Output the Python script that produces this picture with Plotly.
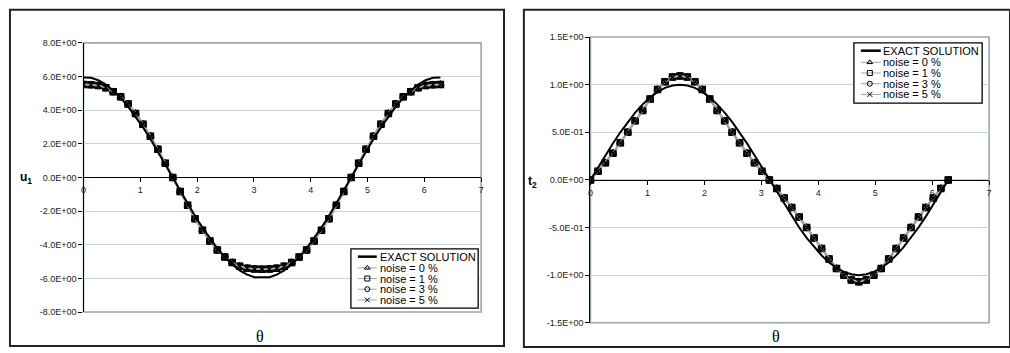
import plotly.graph_objects as go

W, H = 1010, 353

# ---------------- data ----------------
theta = [0.000, 0.131, 0.262, 0.393, 0.524, 0.654, 0.785, 0.916, 1.047, 1.178,
         1.309, 1.440, 1.571, 1.702, 1.833, 1.963, 2.094, 2.225, 2.356, 2.487,
         2.618, 2.749, 2.880, 3.011, 3.142, 3.272, 3.403, 3.534, 3.665, 3.796,
         3.927, 4.058, 4.189, 4.320, 4.451, 4.581, 4.712, 4.843, 4.974, 5.105,
         5.236, 5.367, 5.498, 5.629, 5.760, 5.890, 6.021, 6.152, 6.283]

u1_exact = [5.95, 5.93, 5.78, 5.52, 5.17, 4.73, 4.21, 3.63, 2.98, 2.29,
            1.55, 0.78, 0.00, -0.78, -1.55, -2.29, -2.98, -3.63, -4.21, -4.73,
            -5.17, -5.52, -5.78, -5.93, -5.95, -5.93, -5.78, -5.52, -5.17, -4.73,
            -4.21, -3.63, -2.98, -2.29, -1.55, -0.78, 0.00, 0.78, 1.55, 2.29,
            2.98, 3.63, 4.21, 4.73, 5.17, 5.52, 5.78, 5.93, 5.95]

u1_noise = [5.53, 5.51, 5.47, 5.34, 5.10, 4.80, 4.37, 3.81, 3.17, 2.45,
            1.68, 0.85, 0.00, -0.84, -1.65, -2.45, -3.14, -3.77, -4.31, -4.73,
            -5.06, -5.28, -5.40, -5.44, -5.45, -5.44, -5.40, -5.28, -5.06, -4.73,
            -4.31, -3.77, -3.14, -2.45, -1.65, -0.84, 0.00, 0.85, 1.68, 2.45,
            3.17, 3.81, 4.37, 4.80, 5.10, 5.34, 5.47, 5.51, 5.53]

t2_exact = [0.000, 0.131, 0.259, 0.383, 0.500, 0.609, 0.707, 0.793, 0.866, 0.924,
            0.966, 0.991, 1.000, 0.991, 0.966, 0.924, 0.866, 0.793, 0.707, 0.609,
            0.500, 0.383, 0.259, 0.131, 0.000, -0.131, -0.259, -0.383, -0.500, -0.609,
            -0.707, -0.793, -0.866, -0.924, -0.966, -0.991, -1.000, -0.991, -0.966, -0.924,
            -0.866, -0.793, -0.707, -0.609, -0.500, -0.383, -0.259, -0.131, 0.000]

t2_noise = [0.00, 0.09, 0.18, 0.28, 0.39, 0.50, 0.62, 0.73, 0.85, 0.95,
            1.03, 1.08, 1.09, 1.08, 1.03, 0.95, 0.85, 0.73, 0.62, 0.50,
            0.39, 0.28, 0.18, 0.09, 0.00, -0.09, -0.19, -0.29, -0.39, -0.50,
            -0.61, -0.72, -0.83, -0.93, -1.00, -1.05, -1.07, -1.05, -1.00, -0.93,
            -0.83, -0.72, -0.61, -0.50, -0.39, -0.29, -0.19, -0.09, 0.00]

noise_levels = ["0", "1", "3", "5"]
noise_symbols = ["triangle-up-open", "square-open", "circle-open", "x-thin-open"]

x_ticks = [0, 1, 2, 3, 4, 5, 6, 7]
u1_tickvals = [-8, -6, -4, -2, 0, 2, 4, 6, 8]
u1_ticktext = ["-8.0E+00", "-6.0E+00", "-4.0E+00", "-2.0E+00", "0.0E+00",
               "2.0E+00", "4.0E+00", "6.0E+00", "8.0E+00"]
t2_tickvals = [-1.5, -1.0, -0.5, 0.0, 0.5, 1.0, 1.5]
t2_ticktext = ["-1.5E+00", "-1.0E+00", "-5.0E-01", "0.0E+00",
               "5.0E-01", "1.0E+00", "1.5E+00"]

# ---------------- styling ----------------
GRID = "#C9D6D6"
FRAME = "#98AAAA"
NOISE_LINE = "#9AA9A9"
TICKFONT = dict(family="Liberation Sans, Arial", size=9, color="#222222")


def px(x):
    return x / W


def py(y):
    return 1 - y / H


fig = go.Figure()

panels = [
    dict(xa="x", ya="y", exact=u1_exact, noise=u1_noise),
    dict(xa="x2", ya="y2", exact=t2_exact, noise=t2_noise),
]
for p in panels:
    for lvl, sym in zip(noise_levels, noise_symbols):
        fig.add_trace(go.Scatter(
            x=theta, y=p["noise"], xaxis=p["xa"], yaxis=p["ya"],
            mode="lines+markers", showlegend=False,
            line=dict(color=NOISE_LINE, width=2),
            marker=dict(symbol=sym, size=6, color="black",
                        line=dict(color="black", width=1.5)),
            name=f"noise = {lvl} %"))
    fig.add_trace(go.Scatter(
        x=theta, y=p["exact"], xaxis=p["xa"], yaxis=p["ya"],
        mode="lines", showlegend=False, line=dict(color="black", width=2),
        name="EXACT SOLUTION"))

# plot-area geometry (pixels)
L = dict(x0=81, x1=481, y0=39, y1=316)
R = dict(x0=591, x1=992, y0=33, y1=327)

ydomL = [py(L["y1"]), py(L["y0"])]
ydomR = [py(R["y1"]), py(R["y0"])]

common_x = dict(range=[0, 7], tickvals=x_ticks, showgrid=False, zeroline=False,
                showline=True, linecolor="black", linewidth=1,
                ticks="outside", ticklen=4, tickcolor="black",
                tickfont=TICKFONT, anchor="free", fixedrange=True)
common_y = dict(showgrid=True, gridcolor=GRID, gridwidth=1.3, zeroline=False,
                showline=True, linecolor="black", linewidth=1.3,
                ticks="outside", ticklen=4, tickcolor="black",
                tickfont=TICKFONT, fixedrange=True)

fig.update_layout(
    width=W, height=H, margin=dict(l=0, r=0, t=0, b=0),
    paper_bgcolor="white", plot_bgcolor="rgba(0,0,0,0)",
    showlegend=False,
    xaxis=dict(domain=[px(L["x0"]), px(L["x1"])],
               position=sum(ydomL) / 2, **common_x),
    yaxis=dict(domain=ydomL, anchor="x", range=[-8, 8],
               tickvals=u1_tickvals, ticktext=u1_ticktext, **common_y),
    xaxis2=dict(domain=[px(R["x0"]), px(R["x1"])],
                position=sum(ydomR) / 2, **common_x),
    yaxis2=dict(domain=ydomR, anchor="x2", range=[-1.5, 1.5],
                tickvals=t2_tickvals, ticktext=t2_ticktext, **common_y),
    # pixel overlay for decorations (legend boxes, labels)
    xaxis3=dict(domain=[0, 1], range=[0, W], visible=False, anchor="y3",
                fixedrange=True),
    yaxis3=dict(domain=[0, 1], range=[H, 0], visible=False, anchor="x3",
                fixedrange=True),
)

shapes = []
# plot-area frames
for xa, ya in (("x", "y"), ("x2", "y2")):
    shapes.append(dict(type="rect", xref=f"{xa} domain", yref=f"{ya} domain",
                       x0=0, x1=1, y0=0, y1=1, layer="below",
                       line=dict(color=FRAME, width=1.6)))
# outer chart borders
shapes.append(dict(type="rect", xref="paper", yref="paper",
                   x0=px(7), x1=px(504), y0=py(351), y1=py(5),
                   line=dict(color="#222222", width=2)))
shapes.append(dict(type="rect", xref="paper", yref="paper",
                   x0=px(524), x1=px(1013), y0=py(352), y1=py(5),
                   line=dict(color="#222222", width=2)))

annotations = []
legend_specs = [
    dict(box=(350, 251, 478, 312), ys=[259, 270.5, 281.5, 292.5, 303.5],
         lx=(357, 376), mx=366.5, tx=378),
    dict(box=(856, 39, 985, 101), ys=[47, 59, 70, 81, 92],
         lx=(863, 883), mx=872, tx=884),
]
legend_labels = ["EXACT SOLUTION"] + [f"noise = {lvl} %" for lvl in noise_levels]
for spec in legend_specs:
    bx0, by0, bx1, by1 = spec["box"]
    shapes.append(dict(type="rect", xref="x3", yref="y3", x0=bx0, x1=bx1,
                       y0=by0, y1=by1, fillcolor="white",
                       line=dict(color="black", width=1.3), layer="below"))
    for i, (lab, yy) in enumerate(zip(legend_labels, spec["ys"])):
        if i == 0:
            shapes.append(dict(type="line", xref="x3", yref="y3",
                               x0=spec["lx"][0], x1=spec["lx"][1], y0=yy, y1=yy,
                               layer="below",
                               line=dict(color="black", width=2.5)))
        else:
            shapes.append(dict(type="line", xref="x3", yref="y3",
                               x0=spec["lx"][0], x1=spec["lx"][1], y0=yy, y1=yy,
                               layer="below",
                               line=dict(color=NOISE_LINE, width=1)))
            fig.add_trace(go.Scatter(
                x=[spec["mx"]], y=[yy], xaxis="x3", yaxis="y3", mode="markers",
                showlegend=False, hoverinfo="skip",
                marker=dict(symbol=noise_symbols[i - 1], size=5, color="black",
                            line=dict(color="black", width=1))))
        annotations.append(dict(x=spec["tx"], y=yy, xref="x3", yref="y3",
                                text=lab, showarrow=False, xanchor="left",
                                yanchor="middle", borderpad=0,
                                font=dict(family="Liberation Sans, Arial",
                                          size=11, color="black")))

# axis titles
annotations.append(dict(x=23, y=178, xref="x3", yref="y3",
                        text="<b>u<sub>1</sub></b>", showarrow=False,
                        font=dict(family="Liberation Sans, Arial", size=12,
                                  color="black")))
annotations.append(dict(x=533, y=182, xref="x3", yref="y3",
                        text="<b>t<sub>2</sub></b>", showarrow=False,
                        font=dict(family="Liberation Sans, Arial", size=12,
                                  color="black")))
for xx in (259, 778):
    annotations.append(dict(x=xx, y=341, xref="x3", yref="y3", text="θ",
                            showarrow=False,
                            font=dict(family="Liberation Serif, Times New Roman",
                                      size=16, color="black")))

fig.update_layout(shapes=shapes, annotations=annotations)
fig.write_html("out.html")
